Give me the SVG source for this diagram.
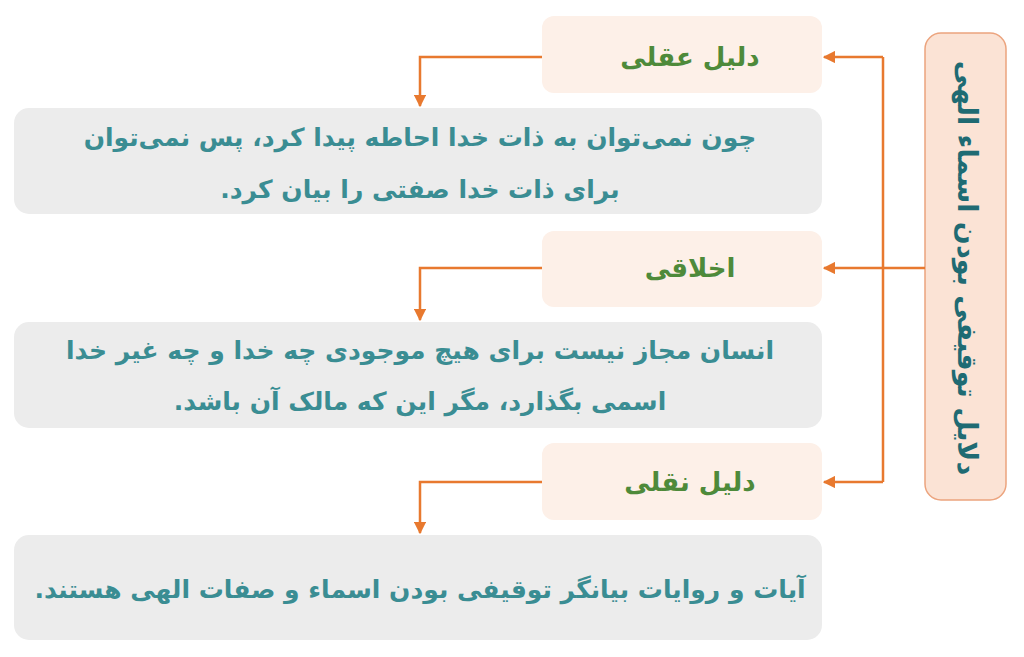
<svg xmlns="http://www.w3.org/2000/svg" width="1024" height="657" viewBox="0 0 1024 657">
<defs>
<marker id="ah" viewBox="0 0 10 10" refX="9" refY="5" markerWidth="5" markerHeight="5" orient="auto" markerUnits="strokeWidth">
<path d="M0,0 L10,5 L0,10 z" fill="#e8792f"/>
</marker>
<style>
.hdr{fill:#fdf0e8;}
.cnt{fill:#ececec;}
.ht{font-family:"DejaVu Sans",sans-serif;font-weight:bold;font-size:26px;fill:#4e8a3a;text-anchor:middle;direction:rtl;}
.ct{font-family:"DejaVu Sans",sans-serif;font-weight:bold;font-size:25px;fill:#3a8d93;text-anchor:middle;direction:rtl;}
.ln{fill:none;stroke:#e8792f;stroke-width:2.5;}
</style>
</defs>
<rect width="1024" height="657" fill="#ffffff"/>
<g id="root">
<rect x="925" y="33" width="81" height="467" rx="16" fill="#fbe3d5" stroke="#eca47e" stroke-width="1.5"/>
<text transform="translate(967,268) rotate(90)" font-family="DejaVu Sans,sans-serif" font-weight="bold" font-size="27" fill="#1f6b73" text-anchor="middle" direction="rtl" dominant-baseline="central">دلایل توقیفی بودن اسماء الهی</text>
</g>
<g id="h1"><rect class="hdr" x="542" y="16" width="280" height="77" rx="12"/><text class="ht" x="690" y="66">دلیل عقلی</text></g>
<g id="h2"><rect class="hdr" x="542" y="231" width="280" height="76" rx="12"/><text class="ht" x="690" y="277">اخلاقی</text></g>
<g id="h3"><rect class="hdr" x="542" y="443" width="280" height="77" rx="12"/><text class="ht" x="690" y="491">دلیل نقلی</text></g>
<g id="c1"><rect class="cnt" x="14" y="108" width="808" height="106" rx="15"/>
<text class="ct" x="420" y="146">چون نمی‌توان به ذات خدا احاطه پیدا کرد، پس نمی‌توان</text>
<text class="ct" x="420" y="198">برای ذات خدا صفتی را بیان کرد.</text></g>
<g id="c2"><rect class="cnt" x="14" y="322" width="808" height="106" rx="15"/>
<text class="ct" x="420" y="359">انسان مجاز نیست برای هیچ موجودی چه خدا و چه غیر خدا</text>
<text class="ct" x="420" y="410">اسمی بگذارد، مگر این که مالک آن باشد.</text></g>
<g id="c3"><rect class="cnt" x="14" y="535" width="808" height="105" rx="15"/>
<text class="ct" x="420" y="598">آیات و روایات بیانگر توقیفی بودن اسماء و صفات الهی هستند.</text></g>
<g id="connectors">
<path class="ln" d="M925,268 H883"/>
<path class="ln" d="M883,57 V482"/>
<path class="ln" d="M883,57 H824" marker-end="url(#ah)"/>
<path class="ln" d="M883,268 H824" marker-end="url(#ah)"/>
<path class="ln" d="M883,482 H824" marker-end="url(#ah)"/>
<path class="ln" d="M542,57 H420 V106" marker-end="url(#ah)"/>
<path class="ln" d="M542,268 H420 V320" marker-end="url(#ah)"/>
<path class="ln" d="M542,482 H420 V533" marker-end="url(#ah)"/>
</g>
</svg>
